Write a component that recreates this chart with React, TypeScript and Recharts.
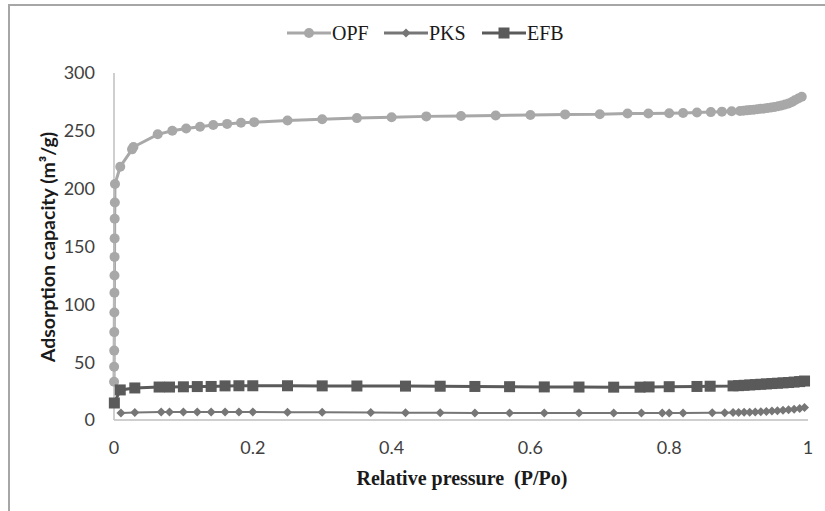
import React from "react";
import { LineChart, Line, XAxis, YAxis, Label } from "recharts";

// OPF isotherm
const opfX = [
  0.0001, 0.0002, 0.0003, 0.0004, 0.0005, 0.0006, 0.0007, 0.0008, 0.0009, 0.001, 0.0012, 0.0014,
  0.009, 0.026, 0.028, 0.063, 0.084, 0.104, 0.124, 0.143, 0.163, 0.183, 0.202,
  0.25, 0.3, 0.35, 0.4, 0.45, 0.5, 0.55, 0.6, 0.65, 0.7, 0.74, 0.77, 0.8, 0.82, 0.84, 0.86, 0.876, 0.89,
  0.902, 0.907, 0.912, 0.917, 0.922, 0.927, 0.932, 0.937, 0.942, 0.947, 0.952, 0.957, 0.962, 0.967, 0.972, 0.977, 0.981, 0.986, 0.991,
];
const opfY = [
  33, 46, 60, 76, 93, 110, 125, 141, 157, 174, 188, 204,
  219, 234, 236, 247, 250, 252, 253.5, 255, 256, 257, 257.5,
  259, 260, 261, 261.7, 262.5, 262.8, 263.3, 263.7, 264.2, 264.3, 265, 265, 265.2, 265.4, 265.8, 266.2, 266.6, 267,
  267.2, 267.4, 267.7, 268, 268.3, 268.6, 269, 269.3, 269.7, 270.2, 270.7, 271.3, 272, 272.8, 273.7, 275, 276.5, 278, 279.5,
];

// PKS isotherm
const pksX = [
  0.01, 0.03, 0.068, 0.08, 0.1, 0.12, 0.14, 0.16, 0.18, 0.2, 0.25, 0.3, 0.37, 0.42, 0.47, 0.52, 0.57, 0.62, 0.67, 0.72,
  0.76, 0.79, 0.8, 0.82, 0.862, 0.88, 0.892, 0.9, 0.908, 0.916, 0.924, 0.932, 0.94, 0.948, 0.956, 0.964, 0.972, 0.98, 0.988, 0.995,
];
const pksY = [
  6, 6.5, 7, 7, 7, 7, 7, 7, 7, 7, 6.8, 6.6, 6.4, 6.3, 6.2, 6.1, 6, 6, 6, 6,
  6, 6, 6, 6.1, 6.2, 6.3, 6.4, 6.5, 6.6, 6.8, 7, 7.2, 7.4, 7.7, 8, 8.4, 8.8, 9.3, 9.9, 10.8,
];

// EFB isotherm
const efbX = [
  0.0005, 0.009, 0.03, 0.065, 0.08, 0.1, 0.12, 0.14, 0.16, 0.18, 0.2, 0.25, 0.3, 0.35, 0.42, 0.47, 0.52, 0.57, 0.62, 0.67, 0.72,
  0.758, 0.771, 0.8, 0.84, 0.859, 0.892, 0.9, 0.908, 0.916, 0.924, 0.932, 0.94, 0.948, 0.956, 0.964, 0.972, 0.98, 0.988, 0.995,
];
const efbY = [
  14.7, 26, 27.7, 28.5, 28.5, 28.7, 28.9, 29, 29.5, 29.6, 29.6, 29.6, 29.5, 29.4, 29.3, 29.2, 29, 28.8, 28.6, 28.5, 28.4,
  28.4, 28.6, 28.8, 29, 29.2, 29.5, 29.7, 30, 30.3, 30.6, 30.9, 31.2, 31.5, 31.8, 32.1, 32.4, 32.8, 33.2, 33.7,
];

const xTicks = [0, 0.2, 0.4, 0.6, 0.8, 1];
const yTicks = [0, 50, 100, 150, 200, 250, 300];

const opfData = opfX.map((x, i) => ({ x, y: opfY[i] }));
const pksData = pksX.map((x, i) => ({ x, y: pksY[i] }));
const efbData = efbX.map((x, i) => ({ x, y: efbY[i] }));

const OPF_COLOR = "#a8a8a8";
const PKS_COLOR = "#767676";
const EFB_COLOR = "#5a5a5a";

const tickStyle = { fill: "#404040", fontSize: 18, fontFamily: "Lato, sans-serif" };

function CircleDot(props: any) {
  const { cx, cy, index } = props;
  if (cx == null || cy == null) return null;
  return <circle key={`o-${index}`} cx={cx} cy={cy} r={5} fill={OPF_COLOR} />;
}

function DiamondDot(props: any) {
  const { cx, cy, index } = props;
  if (cx == null || cy == null) return null;
  const s = 4.5;
  return (
    <polygon
      key={`p-${index}`}
      points={`${cx},${cy - s} ${cx + s},${cy} ${cx},${cy + s} ${cx - s},${cy}`}
      fill={PKS_COLOR}
    />
  );
}

function SquareDot(props: any) {
  const { cx, cy, index } = props;
  if (cx == null || cy == null) return null;
  return <rect key={`e-${index}`} x={cx - 5.5} y={cy - 5.5} width={11} height={11} fill={EFB_COLOR} />;
}

function LegendItem({ left, color, width, label, marker }: { left: number; color: string; width: number; label: string; marker: "circle" | "diamond" | "square" }) {
  return (
    <div style={{ position: "absolute", left, top: 21, height: 24, display: "flex", alignItems: "center" }}>
      <svg width={44} height={24}>
        <line x1={0} y1={12} x2={44} y2={12} stroke={color} strokeWidth={width} />
        {marker === "circle" && <circle cx={22} cy={12} r={5} fill={color} />}
        {marker === "diamond" && <polygon points="22,7.5 26.5,12 22,16.5 17.5,12" fill={color} />}
        {marker === "square" && <rect x={16.5} y={6.5} width={11} height={11} fill={color} />}
      </svg>
      <span style={{ fontFamily: "'Liberation Serif', serif", fontSize: 20, color: "#1a1a1a", marginLeft: 1 }}>{label}</span>
    </div>
  );
}

export default function App() {
  return (
    <div style={{ position: "absolute", left: 0, top: 0, width: 825, height: 511, background: "#fff", overflow: "hidden" }}>
      <div
        style={{
          position: "absolute",
          left: 8,
          top: 4,
          width: 900,
          height: 600,
          borderLeft: "2px solid #a6a6a6",
          borderTop: "2px solid #a6a6a6",
        }}
      />
      <LineChart width={825} height={511} margin={{ top: 73, right: 17, left: 0, bottom: 0 }}>
        <XAxis
          type="number"
          dataKey="x"
          domain={[0, 1]}
          ticks={xTicks}
          tickLine={false}
          axisLine={{ stroke: "#bfbfbf", strokeWidth: 1.5 }}
          tick={tickStyle}
          tickMargin={15}
          height={91}
          allowDuplicatedCategory={false}
        >
          <Label
            content={() => (
              <text
                x={462}
                y={478}
                textAnchor="middle"
                dominantBaseline="central"
                fontFamily="'Liberation Serif', serif"
                fontWeight="bold"
                fontSize={20}
                fill="#1a1a1a"
                style={{ whiteSpace: "pre" }}
              >
                {"Relative pressure  (P/Po)"}
              </text>
            )}
          />
        </XAxis>
        <YAxis
          type="number"
          domain={[0, 300]}
          ticks={yTicks}
          tickLine={false}
          axisLine={{ stroke: "#bfbfbf", strokeWidth: 1.5 }}
          tick={tickStyle}
          tickMargin={13}
          width={114}
        >
          <Label
            content={() => (
              <text
                x={47}
                y={247}
                transform="rotate(-90 47 247)"
                textAnchor="middle"
                dominantBaseline="central"
                fontFamily="Lato, sans-serif"
                fontWeight="bold"
                fontSize={19.5}
                fill="#1a1a1a"
              >
                Adsorption capacity (m³/g)
              </text>
            )}
          />
        </YAxis>
        <Line
          data={opfData}
          dataKey="y"
          type="linear"
          stroke={OPF_COLOR}
          strokeWidth={3}
          dot={CircleDot}
          activeDot={false}
          isAnimationActive={false}
        />
        <Line
          data={pksData}
          dataKey="y"
          type="linear"
          stroke={PKS_COLOR}
          strokeWidth={2}
          dot={DiamondDot}
          activeDot={false}
          isAnimationActive={false}
        />
        <Line
          data={efbData}
          dataKey="y"
          type="linear"
          stroke={EFB_COLOR}
          strokeWidth={3}
          dot={SquareDot}
          activeDot={false}
          isAnimationActive={false}
        />
      </LineChart>
      <LegendItem left={287} color={OPF_COLOR} width={3} label="OPF" marker="circle" />
      <LegendItem left={384} color={PKS_COLOR} width={3} label="PKS" marker="diamond" />
      <LegendItem left={482} color={EFB_COLOR} width={3} label="EFB" marker="square" />
    </div>
  );
}
